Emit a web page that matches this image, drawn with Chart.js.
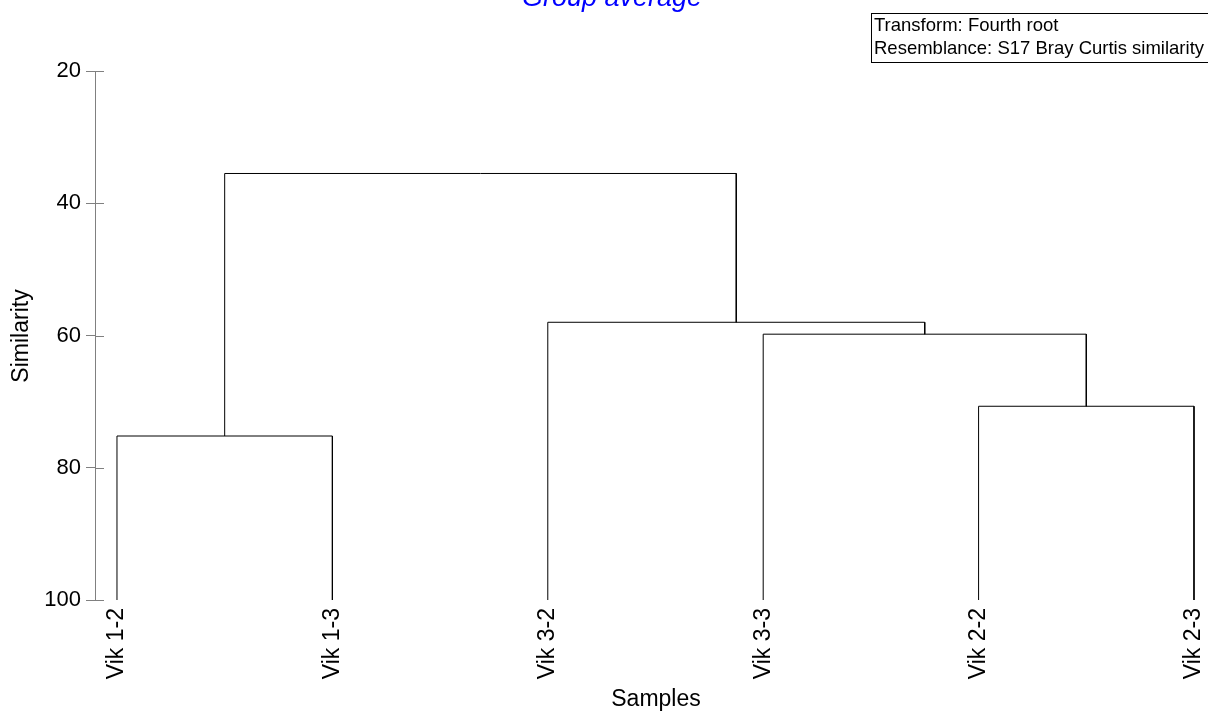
<!DOCTYPE html>
<html><head><meta charset="utf-8">
<script src="https://cdn.jsdelivr.net/npm/chart.js@4/dist/chart.umd.min.js"></script>
<style>html,body{margin:0;padding:0;background:#fff;}canvas{display:block;}</style>
</head><body>
<canvas id="c" width="1208" height="711"></canvas>
<script>
// Leaf samples, in dendrogram order
const samples = ['Vik 1-2','Vik 1-3','Vik 3-2','Vik 3-3','Vik 2-2','Vik 2-3'];
// Merges: children are leaf indices (>=0) or previous merge ids as 'm0','m1',...
const mergeLeft  = [0, 4, 3, 2, 'm0'];
const mergeRight = [1, 5, 'm1', 'm2', 'm3'];
const mergeSimilarity = [75.2, 70.7, 59.8, 58.0, 35.5];
const yTicks = [20, 40, 60, 80, 100];
const titleText = 'Group average';
const xTitle = 'Samples';
const yTitle = 'Similarity';
const infoLines = ['Transform: Fourth root', 'Resemblance: S17 Bray Curtis similarity'];

const FONT = '"Liberation Sans", Arial, sans-serif';

function nodeInfo(ref, nodes){
  if (typeof ref === 'number') return {x: ref, y: 100};
  return nodes[parseInt(ref.slice(1))];
}
const nodes = [];
const datasets = [];
for (let i = 0; i < mergeSimilarity.length; i++){
  const L = nodeInfo(mergeLeft[i], nodes), R = nodeInfo(mergeRight[i], nodes);
  const h = mergeSimilarity[i];
  datasets.push({
    data: [{x:L.x,y:L.y},{x:L.x,y:h},{x:R.x,y:h},{x:R.x,y:R.y}],
    showLine: true, borderColor: '#000', borderWidth: 1, pointRadius: 0,
    fill: false, tension: 0, clip: false
  });
  nodes.push({x:(L.x+R.x)/2, y:h});
}

const decor = {
  id: 'decor',
  afterDraw(chart){
    const ctx = chart.ctx, ys = chart.scales.y;
    ctx.save();
    // inner halves of y ticks
    ctx.strokeStyle = '#808080'; ctx.lineWidth = 1;
    const ax = chart.chartArea.left;
    yTicks.forEach(v => {
      const p = Math.round(ys.getPixelForValue(v)) + 0.5;
      ctx.beginPath(); ctx.moveTo(ax, p); ctx.lineTo(ax + 9, p); ctx.stroke();
    });
    // title
    ctx.fillStyle = '#0000ff';
    ctx.font = 'italic 27px ' + FONT;
    ctx.textAlign = 'center'; ctx.textBaseline = 'alphabetic';
    ctx.fillText(titleText, 612, 6);
    // axis titles
    ctx.fillStyle = '#000';
    ctx.font = '23px ' + FONT;
    ctx.fillText(xTitle, 656, 706);
    ctx.save();
    ctx.translate(28, 336);
    ctx.rotate(-Math.PI / 2);
    ctx.fillText(yTitle, 0, 0);
    ctx.restore();
    // info box
    ctx.strokeStyle = '#000';
    ctx.strokeRect(871.5, 13.5, 340, 49);
    ctx.font = '18.5px ' + FONT;
    ctx.textAlign = 'left';
    ctx.fillText(infoLines[0], 874, 31);
    ctx.fillText(infoLines[1], 874, 54);
    ctx.restore();
  }
};

new Chart(document.getElementById('c'), {
  type: 'scatter',
  data: { datasets },
  plugins: [decor],
  options: {
    responsive: false, animation: false,
    layout: { padding: { top: 71, right: 0, left: 0, bottom: 0 } },
    plugins: { legend: { display: false }, tooltip: { enabled: false }, title: { display: false } },
    scales: {
      x: {
        type: 'linear', min: -0.102, max: 5.065,
        afterBuildTicks: s => { s.ticks = samples.map((_, i) => ({ value: i })); },
        afterFit: s => { s.height = 111; s.paddingRight = 0; s.paddingLeft = 0; },
        ticks: {
          callback: v => samples[v] ?? '',
          minRotation: 90, maxRotation: 90, autoSkip: false,
          color: '#000', font: { size: 23, family: FONT }, padding: 8
        },
        grid: { display: false, drawTicks: false },
        border: { display: false }
      },
      y: {
        type: 'linear', reverse: true, min: 20, max: 100,
        afterBuildTicks: s => { s.ticks = yTicks.map(v => ({ value: v })); },
        afterFit: s => { s.width = 95; },
        ticks: { color: '#000', padding: 5, font: { size: 22, family: FONT } },
        grid: { drawOnChartArea: false, drawTicks: true, tickLength: 9, color: '#808080' },
        border: { display: true, color: '#808080', width: 1 }
      }
    }
  }
});
</script>
</body></html>
